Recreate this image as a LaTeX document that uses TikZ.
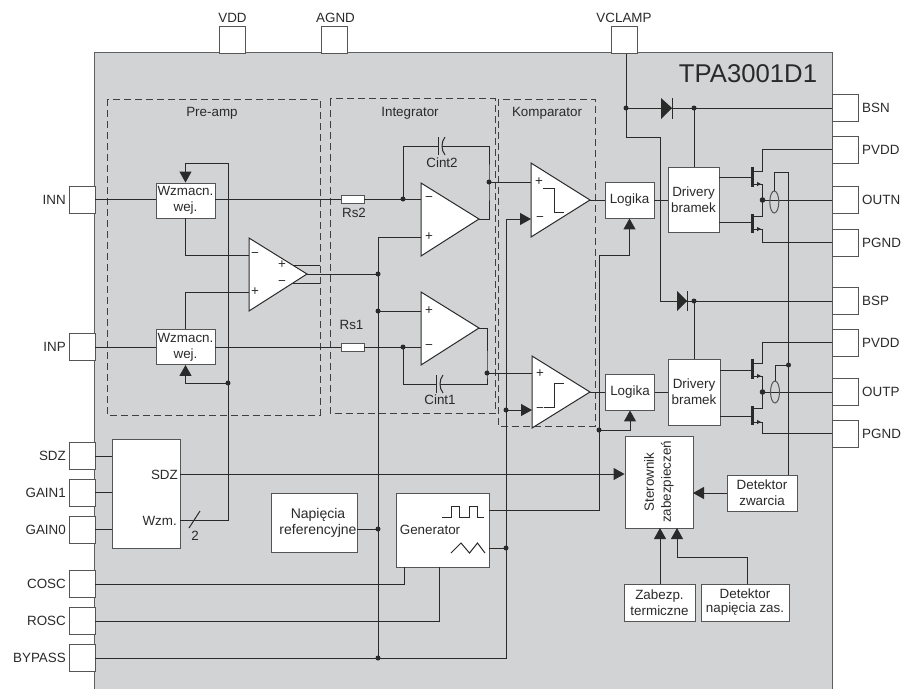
\documentclass[tikz,border=0pt]{standalone}
\usepackage{fontspec}
\setmainfont{Liberation Sans}
\usetikzlibrary{arrows.meta,shapes.geometric}
\definecolor{inkcol}{HTML}{2B2A2A}
\definecolor{chipcol}{HTML}{D1D3D4}
\tikzset{
	every node/.style={font=\fontsize{13.4}{16}\selectfont,text=inkcol,inner sep=0pt,align=center},
	wire/.style={draw=inkcol,line width=1},
	edge/.style={draw=inkcol!75,line width=1.2},
	block/.style={draw=inkcol!80,fill=white,line width=0.9},
	pad/.style={block,minimum width=26pt,minimum height=27pt},
	part/.style={draw=inkcol!90,dash pattern=on 7pt off 4pt,line width=1},
	amp/.style={draw=inkcol,fill=white,line width=1},
	sig/.style={wire,-{Triangle[length=11pt,width=12pt]}},
	smalltip/.style={wire,-{Triangle[length=4pt,width=4pt]}},
	gatebar/.style={draw=inkcol,line width=2.6},
	coil/.style={draw=inkcol!80,ellipse,line width=1,minimum width=9pt,minimum height=22pt},
	plate/.style={draw=inkcol,line width=1},
}
\begin{document}
\begin{tikzpicture}[x=1pt,y=-1pt]
			\useasboundingbox (0,0) rectangle (901,689);
			%chip
			\draw (463.5,371) node[fill=chipcol,minimum width=737pt,minimum height=636pt] (chip) {};
			\draw[edge] (chip.south west) -- (chip.north west) -- (chip.north east) -- (chip.south east);
			\draw (748,74) node[font=\fontsize{25.7}{28}\selectfont] (chipname) {TPA3001D1};
			%pads top
			\draw (232,40) node[pad] (padvdd) {};
			\draw (334,40) node[pad] (padagnd) {};
			\draw (624,40) node[pad] (padvclamp) {};
			\draw (232.5,18) node (labvdd) {VDD};
			\draw (335.5,18) node (labagnd) {AGND};
			\draw (624,18) node (labvclamp) {VCLAMP};
			%pads left
			\draw (82,199.5) node[pad] (padinn) {};
			\draw (82,347) node[pad] (padinp) {};
			\draw (82,456) node[pad] (padsdz) {};
			\draw (82,492.5) node[pad] (padgaina) {};
			\draw (82,529.5) node[pad] (padgainb) {};
			\draw (82,584) node[pad] (padcosc) {};
			\draw (82,621) node[pad] (padrosc) {};
			\draw (82,658) node[pad] (padbypass) {};
			\draw (66,199.5) node[anchor=east] (labinn) {INN};
			\draw (66,347) node[anchor=east] (labinp) {INP};
			\draw (66,456) node[anchor=east] (labsdz) {SDZ};
			\draw (66,492.5) node[anchor=east] (labgaina) {GAIN1};
			\draw (66,529.5) node[anchor=east] (labgainb) {GAIN0};
			\draw (66,584) node[anchor=east] (labcosc) {COSC};
			\draw (66,621) node[anchor=east] (labrosc) {ROSC};
			\draw (66,658) node[anchor=east] (labbypass) {BYPASS};
			%pads right
			\draw (845,108) node[pad] (padbsn) {};
			\draw (845,149.5) node[pad] (padpvdda) {};
			\draw (845,200) node[pad] (padoutn) {};
			\draw (845,242.5) node[pad] (padpgnda) {};
			\draw (845,301) node[pad] (padbsp) {};
			\draw (845,342.5) node[pad] (padpvddb) {};
			\draw (845,392) node[pad] (padoutp) {};
			\draw (845,433.5) node[pad] (padpgndb) {};
			\draw (862,108) node[anchor=west] (labbsn) {BSN};
			\draw (862,149.5) node[anchor=west] (labpvdda) {PVDD};
			\draw (862,200) node[anchor=west] (laboutn) {OUTN};
			\draw (862,242.5) node[anchor=west] (labpgnda) {PGND};
			\draw (862,301) node[anchor=west] (labbsp) {BSP};
			\draw (862,342.5) node[anchor=west] (labpvddb) {PVDD};
			\draw (862,392) node[anchor=west] (laboutp) {OUTP};
			\draw (862,433.5) node[anchor=west] (labpgndb) {PGND};
			%dashed parts
			\draw[part] (107,99) rectangle (320,415);
			\draw[part] (330,98.5) rectangle (495,413);
			\draw[part] (498,99) rectangle (595,426);
			\draw (212,113) node (labpreamp) {Pre-amp};
			\draw (410,113) node (labintegrator) {Integrator};
			\draw (547,113) node (labkomparator) {Komparator};
			%blocks
			\draw (185.5,200.5) node[block,minimum width=59pt,minimum height=35pt] (wzmtop) {Wzmacn.\\wej.};
			\draw (185.5,347) node[block,minimum width=59pt,minimum height=35pt] (wzmbot) {Wzmacn.\\wej.};
			\draw (352.5,199) node[block,minimum width=23pt,minimum height=8pt] (rstop) {};
			\draw (352.5,347) node[block,minimum width=23pt,minimum height=8pt] (rsbot) {};
			\draw (354,213) node (labrstop) {Rs2};
			\draw (351.5,325) node (labrsbot) {Rs1};
			\draw (442,163) node (labcinttop) {Cint2};
			\draw (440,400) node (labcintbot) {Cint1};
			\draw (629.5,200) node[block,minimum width=49pt,minimum height=36pt] (logtop) {Logika};
			\draw (630,392) node[block,minimum width=49pt,minimum height=36pt] (logbot) {Logika};
			\draw (693.5,200) node[block,minimum width=51pt,minimum height=65pt] (drvtop) {Drivery\\bramek};
			\draw (694,392) node[block,minimum width=52pt,minimum height=66pt] (drvbot) {Drivery\\bramek};
			\draw (146,493.5) node[block,minimum width=68pt,minimum height=109pt] (gainbox) {};
			\draw (178,475) node[anchor=east] (labgainsdz) {SDZ};
			\draw (177,521) node[anchor=east] (labgainwzm) {Wzm.};
			\draw (195,536) node (labgaintwo) {2};
			\draw (314,522.5) node[block,minimum width=86pt,minimum height=59pt] (napref) {};
			\draw (318,522.5) node[font=\fontsize{14}{16}\selectfont] (labnapref) {Napięcia\\referencyjne};
			\draw (442.5,530) node[block,minimum width=93pt,minimum height=74pt] (gen) {};
			\draw (430,530) node (labgen) {Generator};
			\draw (659,482) node[block,minimum width=68pt,minimum height=92pt] (ster) {};
			\draw (659,482) node[rotate=90,font=\fontsize{13.4}{17}\selectfont] (labster) {Sterownik\\zabezpieczeń};
			\draw (659.5,602.5) node[block,minimum width=71pt,minimum height=37pt] (termo) {Zabezp.\\termiczne};
			\draw (745,602.5) node[block,minimum width=88pt,minimum height=37pt] (detnap) {Detektor\\[-2pt]napięcia zas.};
			\draw (762,493) node[block,minimum width=70pt,minimum height=36pt] (detzw) {Detektor\\zwarcia};
			%amplifiers
			\draw[amp] (249,238) -- (249,311) -- (307,274) -- cycle;
			\draw[amp] (421,183) -- (421,256) -- (479,219) -- cycle;
			\draw[amp] (421,292) -- (421,365) -- (479,328) -- cycle;
			\draw[amp] (531,163) -- (531,237) -- (590,200) -- cycle;
			\draw[amp] (532,356) -- (532,428) -- (590,392) -- cycle;
			\draw (255,255) node (signpreminus) {−};
			\draw (255,292) node (signpreplus) {+};
			\draw (282,265) node (signoutplus) {+};
			\draw (282,283) node (signoutminus) {−};
			\draw (429,199) node (signintaminus) {−};
			\draw (429,237) node (signintaplus) {+};
			\draw (429,311) node (signintbplus) {+};
			\draw (429,347) node (signintbminus) {−};
			\draw (539,182) node (signcompaplus) {+};
			\draw (540,219) node (signcompaminus) {−};
			\draw (540,374) node (signcompbplus) {+};
			\draw (540,410) node (signcompbminus) {−};
			\draw[wire] (543,188) -- (554,188) -- (554,212) -- (564,212);
			\draw[wire] (544,407) -- (554,407) -- (554,383) -- (564,383);
			%named points
			\coordinate (preminus) at (249,255);
			\coordinate (preplus) at (249,292);
			\coordinate (preout) at (307,274);
			\coordinate (preouta) at (293,265);
			\coordinate (preoutb) at (293,283);
			\coordinate (preenda) at (320,265);
			\coordinate (preendb) at (320,283);
			\coordinate (intaminus) at (421,199);
			\coordinate (intaplus) at (421,237);
			\coordinate (intaout) at (479,219);
			\coordinate (intbplus) at (421,311);
			\coordinate (intbminus) at (421,347);
			\coordinate (intbout) at (479,328);
			\coordinate (compaplus) at (531,182);
			\coordinate (compaminus) at (531,219);
			\coordinate (compaout) at (590,200);
			\coordinate (compbplus) at (532,373);
			\coordinate (compbminus) at (532,410);
			\coordinate (compbout) at (590,392);
			\coordinate (jgain) at (228,383);
			\coordinate (gaintop) at (228,163);
			\coordinate (gainwzm) at (180,520);
			\coordinate (gainsdz) at (180,474);
			\coordinate (slasha) at (189,528);
			\coordinate (slashb) at (200,511);
			\coordinate (jinta) at (403,199);
			\coordinate (jintb) at (403,347);
			\coordinate (jouta) at (489,182);
			\coordinate (joutb) at (487,373);
			\coordinate (capal) at (438,146);
			\coordinate (capar) at (442,146);
			\coordinate (capbl) at (436,384);
			\coordinate (capbr) at (440,384);
			\coordinate (jpre) at (378,274);
			\coordinate (jref) at (378,311);
			\coordinate (jnap) at (378,529);
			\coordinate (jbyp) at (378,658);
			\coordinate (vcomp) at (506,219);
			\coordinate (jcomp) at (506,410);
			\coordinate (jtri) at (506,548);
			\coordinate (genpulse) at (489,510);
			\coordinate (gentri) at (489,548);
			\coordinate (gencosc) at (404,567);
			\coordinate (genrosc) at (439,567);
			\coordinate (logvert) at (599,255);
			\coordinate (jlog) at (599,430);
			\coordinate (sterdet) at (693,493);
			\coordinate (sterterm) at (660,528);
			\coordinate (sternap) at (677,528);
			\coordinate (napbend) at (747,557);
			\coordinate (jclamp) at (626,108);
			\coordinate (clampbend) at (660,137);
			\coordinate (jbsn) at (694,108);
			\coordinate (jbsp) at (694,301);
			\coordinate (diodeb) at (677,301);
			\coordinate (sensetop) at (788.5,172.5);
			\coordinate (jsense) at (788.5,365);
			\coordinate (sensedown) at (788.5,475);
			%pre-amp
			\draw[wire] (padinn.east) -- (wzmtop.west |- padinn);
			\draw[wire] (padinp.east) -- (wzmbot.west);
			\draw[wire] (wzmtop.east |- rstop) -- (rstop.west);
			\draw[wire] (wzmbot.east) -- (rsbot.west);
			\draw[wire] (wzmtop.south) |- (preminus);
			\draw[wire] (wzmbot.north) |- (preplus);
			\draw[wire] (preouta) -- (preenda);
			\draw[wire] (preoutb) -- (preendb);
			\draw[wire] (preout) -- (jpre);
			\draw[sig] (gainwzm) -| (gaintop) -| (wzmtop.north);
			\draw[sig] (jgain) -| (wzmbot.south);
			\draw[wire] (slasha) -- (slashb);
			%integrator
			\draw[wire] (rstop.east) -- (intaminus);
			\draw[wire] (rsbot.east) -- (intbminus);
			\draw[wire] (jinta) |- (capal);
			\draw[wire] (intaout) -| (jouta) |- (capar);
			\draw[wire] (jintb) |- (capbl);
			\draw[wire] (intbout) -| (joutb) |- (capbr);
			\draw[plate] (438,137) -- (438,155);
			\draw[plate] (445,137) .. controls (441,142) and (441,150) .. (445,155);
			\draw[plate] (436,375) -- (436,393);
			\draw[plate] (443,375) .. controls (439,380) and (439,388) .. (443,393);
			\draw[wire] (intaplus) -| (jbyp);
			\draw[wire] (intbplus) -- (jref);
			%komparator
			\draw[wire] (jouta) -- (compaplus);
			\draw[wire] (joutb) -- (compbplus);
			\draw[sig] (padbypass.east) -| (vcomp) -- (compaminus);
			\draw[sig] (jcomp) -- (compbminus);
			\draw[wire] (compaout) -- (logtop.west);
			\draw[wire] (compbout) -- (logbot.west);
			\draw[wire] (logtop.east) -- (drvtop.west);
			\draw[wire] (logbot.east) -- (drvbot.west);
			\draw[sig] (genpulse) -| (logvert) -| (logtop.south);
			\draw[sig] (jlog) -| (logbot.south);
			%diodes
			\draw[wire] (padvclamp.south -| jclamp) |- (clampbend) |- (diodeb);
			\draw[wire] (jclamp) -- (padbsn.west);
			\draw[wire] (diodeb) -- (padbsp.west);
			\fill[inkcol] (661,98) -- (661,119) -- (672,108) -- cycle;
			\draw[plate] (672.5,98) -- (672.5,119);
			\fill[inkcol] (677,291) -- (677,311) -- (687,301) -- cycle;
			\draw[plate] (687.5,291) -- (687.5,311);
			\draw[wire] (jbsn) -- (jbsn |- drvtop.north);
			\draw[wire] (jbsp) -- (jbsp |- drvbot.north);
			%output stage top
			\begin{scope}
				\coordinate (gatea) at (752,177);
				\coordinate (gateb) at (752,222);
				\coordinate (drain) at (754,171);
				\coordinate (middle) at (762.5,200);
				\coordinate (source) at (754,229);
				\draw[gatebar] (752.5,167) -- (752.5,187);
				\draw[gatebar] (752.5,214) -- (752.5,233);
				\draw[wire] (drvtop.east |- gatea) -- (gatea);
				\draw[wire] (drvtop.east |- gateb) -- (gateb);
				\draw[wire] (drain) -- (762.5,171) |- (padpvdda.west);
				\draw[wire] (754,184) -- (762.5,184) -- (762.5,216) -- (754,216);
				\draw[smalltip] (754,184) -- (761,184);
				\draw[wire] (source) -- (762.5,229) |- (padpgnda.west);
				\draw[smalltip] (754,229) -- (761,229);
				\draw[wire] (middle) -- (padoutn.west);
				\draw (774.3,202) node[coil] (sensea) {};
				\draw[wire] (sensea.north) |- (sensetop) -- (sensedown);
				\fill[inkcol] (middle) circle (2.8pt);
			\end{scope}
			%output stage bottom
			\begin{scope}[shift={(0,192)}]
				\coordinate (gatec) at (752,178);
				\coordinate (gated) at (752,224);
				\coordinate (drainb) at (754,171);
				\coordinate (middleb) at (762.5,200);
				\coordinate (sourceb) at (754,230);
				\draw[gatebar] (752.5,167) -- (752.5,187);
				\draw[gatebar] (752.5,214) -- (752.5,233);
				\draw[wire] (drvbot.east |- gatec) -- (gatec);
				\draw[wire] (drvbot.east |- gated) -- (gated);
				\draw[wire] (drainb) -- (762.5,171) |- (padpvddb.west);
				\draw[wire] (754,184) -- (762.5,184) -- (762.5,216) -- (754,216);
				\draw[smalltip] (754,184) -- (761,184);
				\draw[wire] (sourceb) -- (762.5,230) |- (padpgndb.west);
				\draw[smalltip] (754,230) -- (761,230);
				\draw[wire] (middleb) -- (padoutp.west);
				\draw (775,200) node[coil] (senseb) {};
				\draw[wire] (senseb.north) |- (jsense);
				\fill[inkcol] (middleb) circle (2.8pt);
			\end{scope}
			%input logic and generator
			\draw[wire] (padsdz.east) -- (gainbox.west |- padsdz);
			\draw[wire] (padgaina.east) -- (gainbox.west |- padgaina);
			\draw[wire] (padgainb.east) -- (gainbox.west |- padgainb);
			\draw[sig] (gainsdz) -- (ster.west |- gainsdz);
			\draw[wire] (napref.east |- jnap) -- (jnap);
			\draw[wire] (padcosc.east) -| (gencosc);
			\draw[wire] (padrosc.east) -| (genrosc);
			\draw[wire] (gentri) -- (jtri);
			\draw[wire] (442,517) -- (451,517) -- (451,506) -- (459,506) -- (459,517) -- (469,517) -- (469,506) -- (477,506) -- (477,517) -- (484,517);
			\draw[wire] (451,553) -- (461,543) -- (469.5,553) -- (477.5,543) -- (485,553);
			%protection
			\draw[sig] (detzw.west) -- (sterdet);
			\draw[sig] (termo.north -| sterterm) -- (sterterm);
			\draw[wire] (detnap.north -| napbend) -- (napbend);
			\draw[sig] (napbend) -| (sternap);
			%dots
			\fill[inkcol] (jgain) circle (2.5pt) (jinta) circle (2.5pt) (jintb) circle (2.5pt);
			\fill[inkcol] (jouta) circle (2.5pt) (joutb) circle (2.5pt) (jpre) circle (2.5pt);
			\fill[inkcol] (jref) circle (2.5pt) (jnap) circle (2.5pt) (jbyp) circle (2.5pt);
			\fill[inkcol] (jcomp) circle (2.5pt) (jtri) circle (2.5pt) (jlog) circle (2.5pt);
			\fill[inkcol] (jclamp) circle (2.5pt) (jbsn) circle (2.5pt) (jbsp) circle (2.5pt) (jsense) circle (2.5pt);
\end{tikzpicture}
\end{document}
